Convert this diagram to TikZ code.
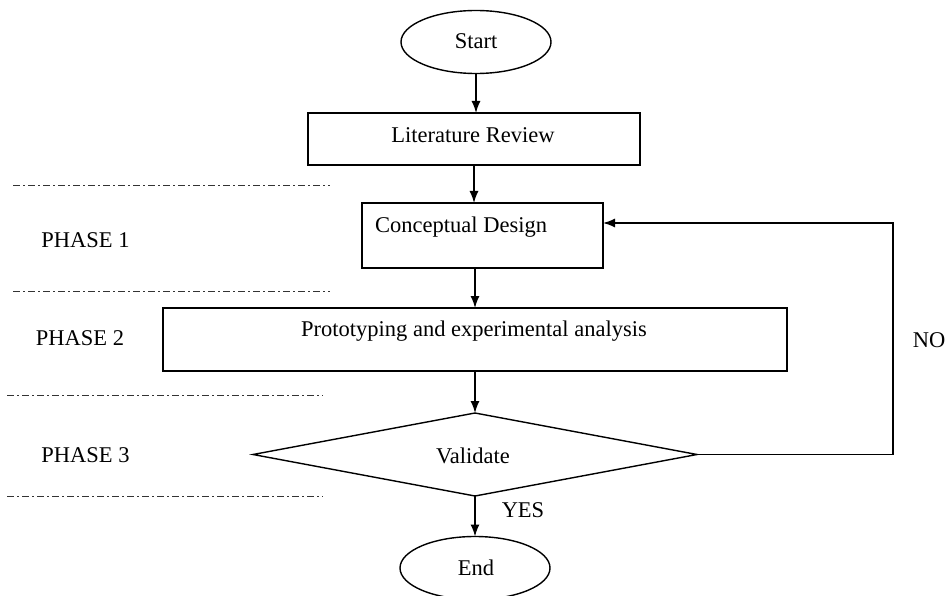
\documentclass[tikz,border=0pt]{standalone}
\usepackage{fontspec}
\setmainfont{Liberation Serif}
\usetikzlibrary{shapes.geometric,arrows.meta}
\begin{document}
\begin{tikzpicture}[x=1pt,y=-1pt,
  every node/.style={font=\fontsize{22.5}{27}\selectfont},
  shapeline/.style={draw=black,line width=1.4pt,inner sep=0pt,outer sep=0pt},
  boxnode/.style={shapeline,rectangle},
  ovalnode/.style={shapeline,ellipse},
  decnode/.style={shapeline,diamond},
  txt/.style={anchor=base,inner sep=0pt},
  flow/.style={line width=1.4pt,-{Latex[length=12pt,width=9pt]}},
  phaseline/.style={line width=1pt,black!80,dash pattern=on 7pt off 3pt on 1.5pt off 3.5pt}
]
\useasboundingbox[fill=white] (0,0) rectangle (947,596);

% shapes
\node[ovalnode,minimum width=150pt,minimum height=63pt] (start) at (476,42) {};
\node[boxnode,minimum width=332pt,minimum height=52pt] (lit) at (474,139) {};
\node[boxnode,minimum width=241pt,minimum height=65pt] (cd) at (482.5,235.5) {};
\node[boxnode,minimum width=624pt,minimum height=63pt] (proto) at (475,339.5) {};
\node[decnode,minimum width=444pt,minimum height=83pt] (val) at (475,454.5) {};
\node[ovalnode,minimum width=150pt,minimum height=63pt] (end) at (475,568) {};

% texts
\node[txt] (tstart) at (476,49) {Start};
\node[txt] (tlit) at (473,142.5) {Literature Review};
\node[txt,anchor=base west] (tcd) at (375,233) {Conceptual Design};
\node[txt] (tproto) at (474,336) {Prototyping and experimental analysis};
\node[txt] (tval) at (473,463) {Validate};
\node[txt] (tend) at (476,575) {End};
\node[txt] (tyes) at (523,517) {YES};
\node[txt] (tno) at (929,347) {NO};
\node[txt] (p1) at (85.5,247) {PHASE 1};
\node[txt] (p2) at (80,345) {PHASE 2};
\node[txt] (p3) at (85.5,462) {PHASE 3};

% phase separators
\coordinate (s1a) at (13,186);  \coordinate (s1b) at (330,186);
\coordinate (s2a) at (13,291);  \coordinate (s2b) at (330,291);
\coordinate (s3a) at (7,395);   \coordinate (s3b) at (323,395);
\coordinate (s4a) at (7,496);   \coordinate (s4b) at (323,496);
\draw[phaseline] (s1a) -- (s1b);
\draw[phaseline] (s2a) -- (s2b);
\draw[phaseline] (s3a) -- (s3b);
\draw[phaseline] (s4a) -- (s4b);

% connectors
\draw[flow] (start.south) -- (start.south |- lit.north);
\draw[flow] (lit.south) -- (lit.south |- cd.north);
\draw[flow] (cd.south -| proto.north) -- (proto.north);
\draw[flow] (proto.south) -- (val.north);
\draw[flow] (val.south) -- (end.north);
\coordinate (nocorner) at (893,223);
\draw[flow] (val.east) -| (nocorner) -- (cd.east |- nocorner);
\end{tikzpicture}
\end{document}
